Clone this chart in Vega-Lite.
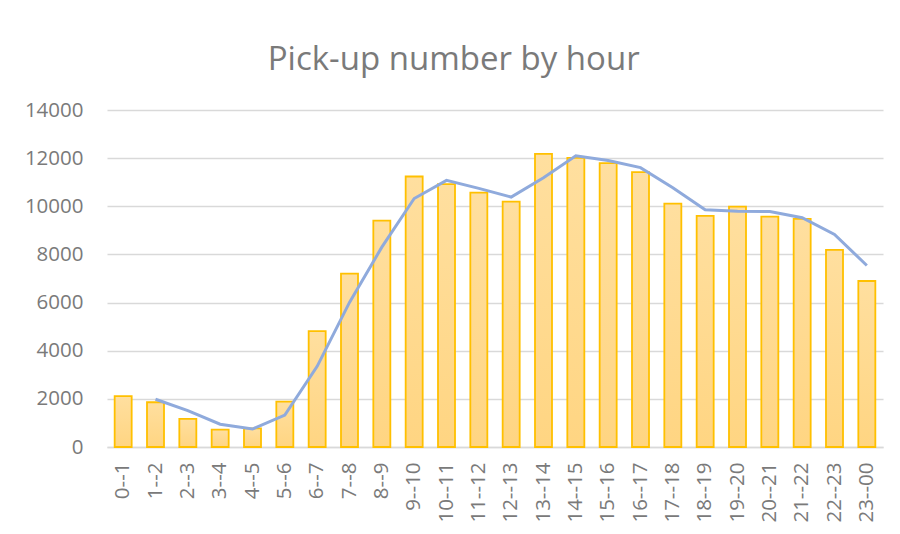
{
  "$schema": "https://vega.github.io/schema/vega-lite/v6.json",
  "width": 776,
  "height": 337,
  "autosize": {"type": "none"},
  "padding": {"left": 107, "top": 110, "right": 17, "bottom": 87},
  "background": "white",
  "title": {
    "text": "Pick-up number by hour",
    "font": "Open Sans",
    "fontSize": 33,
    "fontWeight": "normal",
    "color": "#7a7a7a",
    "anchor": "middle",
    "frame": "bounds",
    "offset": 23
  },
  "data": {
    "values": [
      {"hour": "0--1", "pickups": 2110, "trend": null},
      {"hour": "1--2", "pickups": 1860, "trend": 1985},
      {"hour": "2--3", "pickups": 1166, "trend": 1513},
      {"hour": "3--4", "pickups": 723, "trend": 945},
      {"hour": "4--5", "pickups": 770, "trend": 747},
      {"hour": "5--6", "pickups": 1887, "trend": 1329},
      {"hour": "6--7", "pickups": 4813, "trend": 3350},
      {"hour": "7--8", "pickups": 7200, "trend": 6007},
      {"hour": "8--9", "pickups": 9406, "trend": 8303},
      {"hour": "9--10", "pickups": 11237, "trend": 10322},
      {"hour": "10--11", "pickups": 10917, "trend": 11077},
      {"hour": "11--12", "pickups": 10570, "trend": 10744},
      {"hour": "12--13", "pickups": 10196, "trend": 10383},
      {"hour": "13--14", "pickups": 12180, "trend": 11188},
      {"hour": "14--15", "pickups": 12010, "trend": 12095},
      {"hour": "15--16", "pickups": 11793, "trend": 11902},
      {"hour": "16--17", "pickups": 11419, "trend": 11606},
      {"hour": "17--18", "pickups": 10112, "trend": 10766},
      {"hour": "18--19", "pickups": 9600, "trend": 9856},
      {"hour": "19--20", "pickups": 9988, "trend": 9794},
      {"hour": "20--21", "pickups": 9572, "trend": 9780},
      {"hour": "21--22", "pickups": 9476, "trend": 9524},
      {"hour": "22--23", "pickups": 8186, "trend": 8831},
      {"hour": "23--00", "pickups": 6896, "trend": 7541}
    ]
  },
  "encoding": {
    "x": {
      "field": "hour",
      "type": "nominal",
      "sort": null,
      "scale": {"paddingInner": 0.474, "paddingOuter": 0.237},
      "axis": {
        "title": null,
        "labelAngle": -90,
        "labelFont": "Open Sans",
        "labelFontSize": 20.5,
        "labelColor": "#7a7a7a",
        "labelPadding": 15,
        "ticks": false,
        "domainColor": "#d9d9d9",
        "domainWidth": 1.5,
        "grid": false
      }
    }
  },
  "layer": [
    {
      "mark": {
        "type": "bar",
        "color": {
          "gradient": "linear",
          "x1": 0, "y1": 0, "x2": 0, "y2": 1,
          "stops": [
            {"offset": 0, "color": "#ffdf9f"},
            {"offset": 1, "color": "#ffd582"}
          ]
        },
        "stroke": "#ffc000",
        "strokeWidth": 1.8
      },
      "encoding": {
        "y": {
          "field": "pickups",
          "type": "quantitative",
          "scale": {"domain": [0, 14000], "nice": false},
          "axis": {
            "title": null,
            "values": [0, 2000, 4000, 6000, 8000, 10000, 12000, 14000],
            "format": "d",
            "labelFont": "Open Sans",
            "labelFontSize": 20.5,
            "labelColor": "#7a7a7a",
            "labelPadding": 24,
            "ticks": false,
            "domain": false,
            "gridColor": "#d9d9d9",
            "gridWidth": 1.5
          }
        }
      }
    },
    {
      "mark": {"type": "line", "color": "#8faadc", "strokeWidth": 3},
      "encoding": {
        "y": {"field": "trend", "type": "quantitative"}
      }
    }
  ],
  "config": {"view": {"stroke": null}}
}
